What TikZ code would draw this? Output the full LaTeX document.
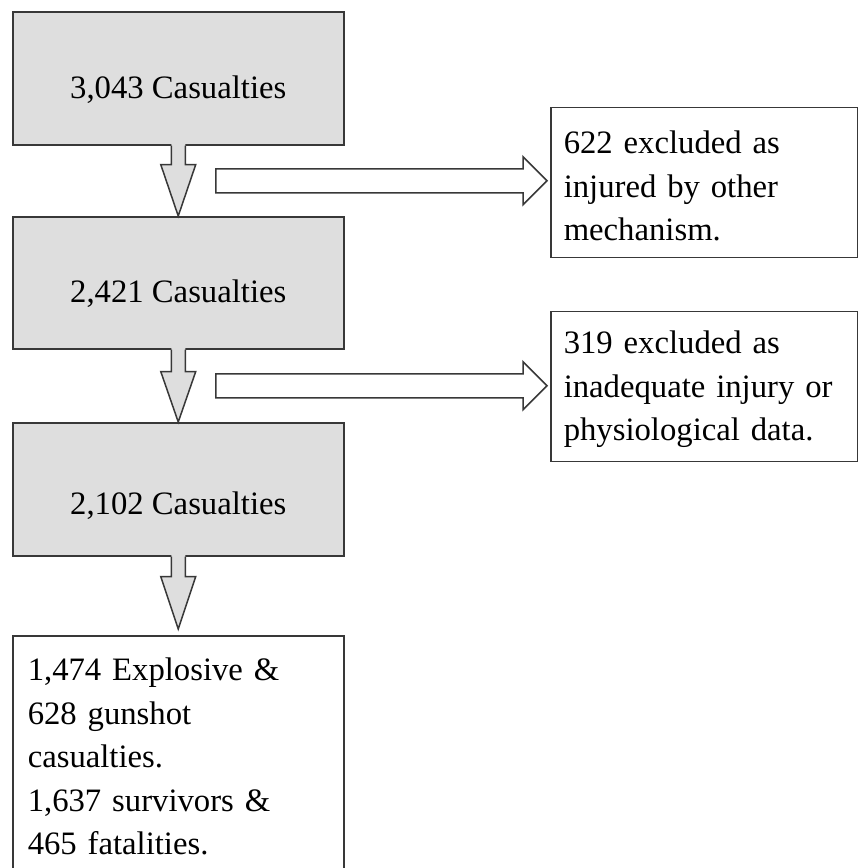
\documentclass[tikz,border=0pt]{standalone}
\usepackage{fontspec}
\setmainfont{Liberation Serif}
\usetikzlibrary{calc}
\definecolor{boxgray}{HTML}{DEDEDE}
\definecolor{edgegray}{HTML}{383838}
\newcommand{\flowdown}[3]{%
  % #1 = source box, #2 = shaft length, #3 = tip coordinate
  \fill[boxgray] ($(#1.south)+(-7,-1.5)$) -- ($(#1.south)+(-7,#2)$) -- ($(#1.south)+(-17.5,#2)$) -- (#3) -- ($(#1.south)+(17.5,#2)$) -- ($(#1.south)+(7,#2)$) -- ($(#1.south)+(7,-1.5)$) -- cycle;
  \draw[edge] ($(#1.south)+(-7,0)$) -- ($(#1.south)+(-7,#2)$) -- ($(#1.south)+(-17.5,#2)$) -- (#3) -- ($(#1.south)+(17.5,#2)$) -- ($(#1.south)+(7,#2)$) -- ($(#1.south)+(7,0)$);
}
\newcommand{\flowright}[2]{%
  % #1 = mid coordinate between boxes, #2 = target box
  \draw[edge, fill=white] ($(#1)+(37.5,-12)$) -- ($(#1 -| #2.west)+(-27,-12)$) -- ($(#1 -| #2.west)+(-27,-24)$) -- ($(#1 -| #2.west)+(-3,0)$) -- ($(#1 -| #2.west)+(-27,24)$) -- ($(#1 -| #2.west)+(-27,12)$) -- ($(#1)+(37.5,12)$) -- cycle;
}
\tikzset{
  edge/.style={draw=edgegray, line width=1.5pt, line join=miter},
  graybox/.style={edge, fill=boxgray, rectangle, anchor=north west, minimum width=331pt, inner sep=0pt, text depth=0pt, font=\fontsize{32.7}{43.5}\selectfont},
  whitebox/.style={edge, fill=white, rectangle, anchor=north west, inner ysep=0pt, align=left, font=\fontsize{32.7}{43.5}\selectfont},
}
\begin{document}
\begin{tikzpicture}[x=1pt, y=-1pt]
\useasboundingbox (0,0) rectangle (858,868);
\fill[white] (0,0) rectangle (858,868);
\clip (0,0) rectangle (858,868);

\node[graybox, minimum height=133pt, text height=41pt] (b1) at (12,11) {3,043 Casualties};
\node[graybox, minimum height=132pt, text height=40pt] (b2) at (12,216) {2,421 Casualties};
\node[graybox, minimum height=133pt, text height=50pt] (b3) at (12,422) {2,102 Casualties};
\node[whitebox, inner xsep=15pt, text width=301pt, text height=45pt, text depth=255pt] (b4) at (12,635)
  {1,474 Explosive \&\\628 gunshot\\casualties.\\1,637 survivors \&\\465 fatalities.};

\coordinate (m1) at ($(b1.south)!0.5!(b2.north)$);
\coordinate (m2) at ($(b2.south)!0.5!(b3.north)$);

\node[whitebox, inner xsep=13pt, text width=281pt, text height=46pt, text depth=104pt] (r1) at ($(m1 -| 550,0)+(0,-74)$)
  {622 excluded as\\injured by other\\mechanism.};
\node[whitebox, inner xsep=13pt, text width=281pt, text height=42pt, text depth=108pt] (r2) at ($(m2 -| 550,0)+(0,-75)$)
  {319 excluded as\\inadequate injury or\\physiological data.};

\flowdown{b1}{19}{b2.north}
\flowdown{b2}{22}{b3.north}
\flowdown{b3}{20}{$(b4.north)+(0,-6)$}

\flowright{m1}{r1}
\flowright{m2}{r2}
\end{tikzpicture}
\end{document}
